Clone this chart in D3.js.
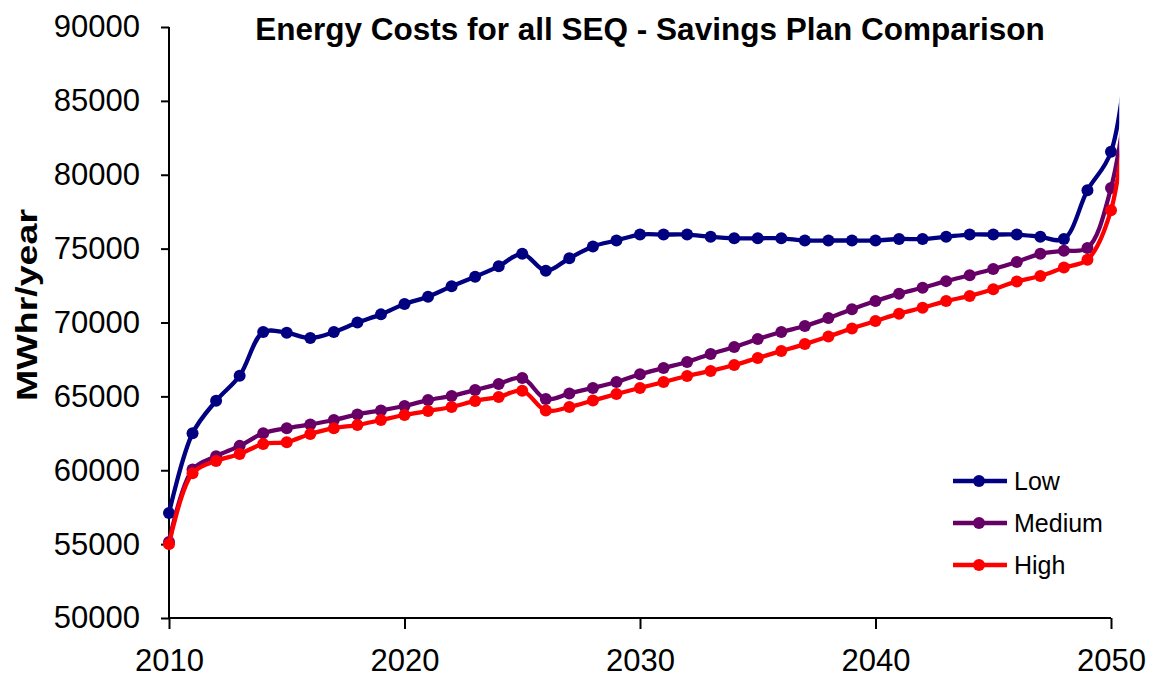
<!DOCTYPE html>
<html>
<head>
<meta charset="utf-8">
<script src="https://cdn.jsdelivr.net/npm/d3@7"></script>
<style>
  body { margin: 0; background: #fff; }
  svg { display: block; font-family: "Liberation Sans", Arial, sans-serif; }
</style>
</head>
<body>
<svg id="chart" width="1155" height="679"></svg>
<script>
// Years with a marker, plus one trailing year that the plot edge cuts off
const years = d3.range(2010, 2052);
const lastMarkedYear = 2050;

const lowValues = [
  57100, 62500, 64700, 66400, 69350, 69300, 68950, 69350, 70000, 70550,
  71250, 71750, 72450, 73100, 73800, 74650, 73500, 74350, 75150, 75550,
  75950, 75950, 75950, 75800, 75700, 75700, 75700, 75550, 75550, 75550,
  75550, 75650, 75650, 75800, 75950, 75950, 75950, 75800, 75650, 78950,
  81550, 93500,
];
const mediumValues = [
  55150, 60050, 60950, 61650, 62500, 62850, 63100, 63400, 63780, 64050,
  64350, 64750, 65030, 65430, 65840, 66250, 64820, 65200, 65570, 65970,
  66500, 66920, 67330, 67870, 68340, 68880, 69360, 69760, 70300, 70900,
  71450, 71950, 72350, 72800, 73200, 73620, 74100, 74650, 74850, 75050,
  79100, 89000,
];
const highValues = [
  55000, 59800, 60630, 61100, 61780, 61900, 62450, 62850, 63060, 63400,
  63740, 64010, 64280, 64690, 64960, 65380, 64040, 64280, 64720, 65160,
  65570, 65970, 66380, 66720, 67120, 67600, 68070, 68540, 69050, 69600,
  70100, 70600, 71000, 71450, 71800, 72250, 72780, 73150, 73720, 74250,
  77600, 90000,
];

const seriesNames = ["Low", "Medium", "High"];
const seriesColors = ["#000080", "#660066", "#ff0000"];
const xTicks = [2010, 2020, 2030, 2040, 2050];
const yTicks = [50000, 55000, 60000, 65000, 70000, 75000, 80000, 85000, 90000];

const title = "Energy Costs for all SEQ - Savings Plan Comparison";
const yTitle = "MWhr/year";

// Layout
const plot = { left: 169, right: 1111, top: 27, bottom: 618 };
const clipYear = 2050.35;

const svg = d3.select("#chart");

const x = d3.scaleLinear().domain([2010, 2050]).range([plot.left, plot.right]);
const y = d3.scaleLinear().domain([50000, 90000]).range([plot.bottom, plot.top]);

const series = [lowValues, mediumValues, highValues].map((vals, i) => ({
  name: seriesNames[i],
  color: seriesColors[i],
  points: years.map((yr, j) => ({ year: yr, value: vals[j] })),
}));

// Title
svg.append("text")
  .attr("x", 650)
  .attr("y", 40)
  .attr("text-anchor", "middle")
  .attr("font-size", 31.5)
  .attr("font-weight", "bold")
  .text(title);

// Y axis title
svg.append("text")
  .attr("transform", "translate(37,305) rotate(-90)")
  .attr("text-anchor", "middle")
  .attr("font-size", 30)
  .attr("font-weight", "bold")
  .attr("textLength", 192)
  .attr("lengthAdjust", "spacingAndGlyphs")
  .text(yTitle);

// Axes
const yAxis = svg.append("g")
  .attr("transform", `translate(${plot.left},0)`)
  .call(d3.axisLeft(y).tickValues(yTicks).tickSize(8).tickPadding(21)
    .tickFormat(d3.format("d")));

const xAxis = svg.append("g")
  .attr("transform", `translate(0,${plot.bottom})`)
  .call(d3.axisBottom(x).tickValues(xTicks).tickSize(11).tickPadding(20)
    .tickFormat(d3.format("d")));

[yAxis, xAxis].forEach((g) => {
  g.select(".domain").attr("stroke", "#000").attr("stroke-width", 2);
  g.selectAll(".tick line").attr("stroke", "#000").attr("stroke-width", 2);
  g.selectAll(".tick text")
    .attr("fill", "#000")
    .attr("font-size", 31)
    .attr("font-family", "'Liberation Sans', Arial, sans-serif");
});
// no outer end ticks
yAxis.select(".domain").attr("d", `M0,${plot.top}V${plot.bottom}`);
xAxis.select(".domain").attr("d", `M${plot.left},0H${plot.right}`);

// Clip the trailing segment at the plot edge
svg.append("clipPath")
  .attr("id", "plot-clip")
  .append("rect")
  .attr("x", 0)
  .attr("y", 0)
  .attr("width", x(clipYear))
  .attr("height", 679);

const line = d3.line()
  .x((d) => x(d.year))
  .y((d) => y(d.value))
  .curve(d3.curveCatmullRom.alpha(0.5));

const layer = svg.append("g").attr("clip-path", "url(#plot-clip)");

series.forEach((s) => {
  layer.append("path")
    .datum(s.points)
    .attr("fill", "none")
    .attr("stroke", s.color)
    .attr("stroke-width", 4.3)
    .attr("stroke-linejoin", "round")
    .attr("d", line);

  layer.selectAll(null)
    .data(s.points.filter((d) => d.year <= lastMarkedYear))
    .enter()
    .append("circle")
    .attr("cx", (d) => x(d.year))
    .attr("cy", (d) => y(d.value))
    .attr("r", 6)
    .attr("fill", s.color);
});

// Legend
const legend = svg.append("g").attr("transform", "translate(953,481)");
series.forEach((s, i) => {
  const row = legend.append("g").attr("transform", `translate(0,${i * 42})`);
  row.append("line")
    .attr("x1", 0).attr("x2", 54)
    .attr("stroke", s.color).attr("stroke-width", 4.3);
  row.append("circle").attr("cx", 26).attr("r", 6).attr("fill", s.color);
  row.append("text")
    .attr("x", 61)
    .attr("dy", "0.36em")
    .attr("font-size", 25)
    .text(s.name);
});
</script>
</body>
</html>
